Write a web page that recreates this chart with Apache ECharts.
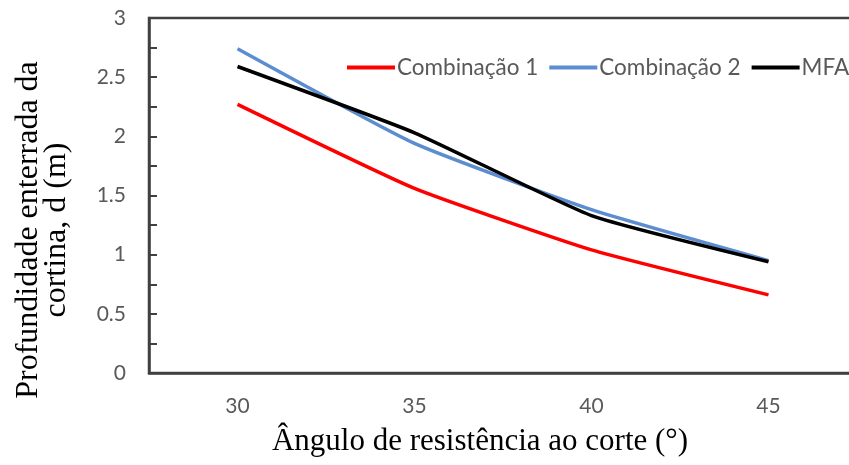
<!DOCTYPE html>
<html>
<head>
<meta charset="utf-8">
<script src="https://cdn.jsdelivr.net/npm/echarts@6/dist/echarts.min.js"></script>
<style>html,body{margin:0;padding:0;background:#fff}#c{width:849px;height:465px}</style>
</head>
<body>
<div id="c"></div>
<script>
const categories = ['30', '35', '40', '45'];
const comb1 = [2.27, 1.56, 1.04, 0.66];
const comb2 = [2.74, 1.94, 1.38, 0.95];
const mfa = [2.59, 2.03, 1.33, 0.94];
const seriesNames = ['Combinação 1', 'Combinação 2', 'MFA'];
const yTitle = 'Profundidade enterrada da\ncortina, d (m)';
const xTitle = 'Ângulo de resistência ao corte (°)';

const chart = echarts.init(document.getElementById('c'));
const axisColor = '#404040';
const labelColor = '#595959';
const labelFont = 'Lato, "Open Sans", sans-serif';
const titleFont = '"Liberation Serif", "Times New Roman", serif';
chart.setOption({
  animation: false,
  backgroundColor: '#fff',
  grid: {
    left: 149, top: 18, width: 708, bottom: 92,
    outerBoundsMode: 'none', containLabel: false,
    show: true, borderColor: axisColor, borderWidth: 2.5, backgroundColor: 'transparent'
  },
  legend: {
    left: 347, top: 56, width: 700, padding: 0,
    itemWidth: 48, itemHeight: 4, itemGap: 11,
    icon: 'rect',
    textStyle: { color: labelColor, fontSize: 22.5, fontFamily: labelFont, padding: [0, 0, 0, -3] },
    data: seriesNames
  },
  xAxis: {
    type: 'category',
    data: categories,
    boundaryGap: true,
    name: xTitle,
    nameLocation: 'middle',
    nameGap: 53,
    nameTextStyle: { fontFamily: titleFont, fontSize: 31, color: '#000', padding: [0, 46, 0, 0] },
    axisLine: { lineStyle: { color: axisColor, width: 2.5 } },
    axisTick: { alignWithLabel: true, inside: true, length: 5, lineStyle: { color: axisColor, width: 2 } },
    axisLabel: { color: labelColor, fontSize: 21, fontFamily: labelFont, margin: 23 },
    splitLine: { show: false }
  },
  yAxis: {
    type: 'value',
    min: 0, max: 3, interval: 0.5,
    name: yTitle,
    nameLocation: 'middle',
    nameRotate: 90,
    nameGap: 78,
    nameTextStyle: { fontFamily: titleFont, fontSize: 32, color: '#000', lineHeight: 28, padding: [0, 69, 0, 0] },
    axisLine: { show: true, lineStyle: { color: axisColor, width: 2.5 } },
    axisTick: { show: true, inside: true, length: 8, lineStyle: { color: axisColor, width: 2 } },
    minorTick: { show: true, splitNumber: 2, length: 8, lineStyle: { color: axisColor, width: 2 } },
    axisLabel: { color: labelColor, fontSize: 21, fontFamily: labelFont, margin: 23 },
    splitLine: { show: false }
  },
  series: [
    { name: seriesNames[0], type: 'line', data: comb1, smooth: 0.15, showSymbol: false, symbol: 'none', lineStyle: { color: '#ff0000', width: 3.5 }, itemStyle: { color: '#ff0000' }, z: 2 },
    { name: seriesNames[1], type: 'line', data: comb2, smooth: 0.15, showSymbol: false, symbol: 'none', lineStyle: { color: '#5b8dd0', width: 3.5 }, itemStyle: { color: '#5b8dd0' }, z: 3 },
    { name: seriesNames[2], type: 'line', data: mfa, smooth: 0.15, showSymbol: false, symbol: 'none', lineStyle: { color: '#000000', width: 3.5 }, itemStyle: { color: '#000000' }, z: 4 }
  ]
});
</script>
</body>
</html>
